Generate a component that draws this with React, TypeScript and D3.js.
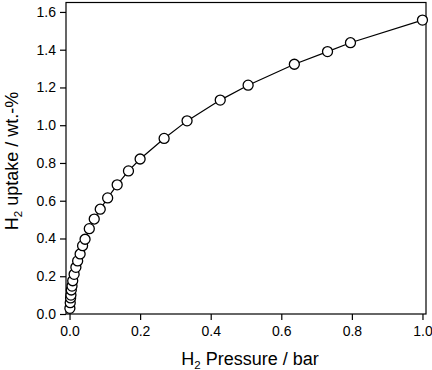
import { useEffect, useRef } from 'react';
import * as d3 from 'd3';

// H2 isotherm, pressure in bar, uptake in wt.-%
const pressure = [
  0.001, 0.002, 0.003, 0.004, 0.005, 0.007, 0.009, 0.013, 0.018, 0.023, 0.03,
  0.037, 0.044, 0.056, 0.07, 0.087, 0.108, 0.135, 0.167, 0.2, 0.268, 0.333,
  0.427, 0.506, 0.637, 0.731, 0.796, 1.0,
];
const uptake = [
  0.03, 0.06, 0.085, 0.1, 0.127, 0.148, 0.176, 0.21, 0.247, 0.281, 0.318,
  0.362, 0.396, 0.452, 0.503, 0.555, 0.615, 0.684, 0.758, 0.821, 0.93, 1.023,
  1.133, 1.212, 1.323, 1.39, 1.437, 1.557,
];
const xTicks = [0, 0.2, 0.4, 0.6, 0.8, 1.0];
const yTicks = [0, 0.2, 0.4, 0.6, 0.8, 1.0, 1.2, 1.4, 1.6];

export default function App() {
  const svgRef = useRef<SVGSVGElement>(null);
  const width = 432;
  const height = 370;

  useEffect(() => {
    if (!svgRef.current) return;
    const svg = d3.select(svgRef.current);
    svg.selectAll('*').remove();

    const x = d3.scaleLinear().domain([-0.01, 1.01]).range([66, 426]);
    const y = d3.scaleLinear().domain([0, 1.65]).range([314, 2.5]);
    const font = 'Arial, "Liberation Sans", sans-serif';

    // frame
    svg.append('rect')
      .attr('x', x(-0.01)).attr('y', y(1.65))
      .attr('width', x(1.01) - x(-0.01)).attr('height', y(0) - y(1.65))
      .attr('fill', 'none').attr('stroke', '#000').attr('stroke-width', 1.2);

    // X axis
    const gx = svg.append('g').attr('transform', `translate(0,${y(0)})`);
    gx.call(d3.axisBottom(x).tickValues(d3.range(0, 1.01, 0.1)).tickSize(3).tickFormat(() => ''));
    gx.call(d3.axisBottom(x).tickValues(xTicks).tickSize(6).tickPadding(6).tickFormat(d3.format('.1f')));
    gx.select('.domain').remove();
    gx.selectAll('line').attr('stroke-width', 1.2);
    gx.selectAll('text').attr('font-size', 14).attr('font-family', font).attr('fill', '#000');

    // Y axis
    const gy = svg.append('g').attr('transform', `translate(${x(-0.01)},0)`);
    gy.call(d3.axisLeft(y).tickValues(d3.range(0, 1.61, 0.1)).tickSize(3).tickFormat(() => ''));
    gy.call(d3.axisLeft(y).tickValues(yTicks).tickSize(6).tickPadding(4).tickFormat(d3.format('.1f')));
    gy.select('.domain').remove();
    gy.selectAll('line').attr('stroke-width', 1.2);
    gy.selectAll('text').attr('font-size', 14).attr('font-family', font).attr('fill', '#000');

    const pts = pressure.map((p, i) => [p, uptake[i]] as [number, number]);

    svg.append('path')
      .datum(pts)
      .attr('d', d3.line().x((d) => x(d[0])).y((d) => y(d[1])))
      .attr('fill', 'none').attr('stroke', '#000').attr('stroke-width', 1.2);

    svg.selectAll('circle.pt')
      .data(pts)
      .enter()
      .append('circle')
      .attr('class', 'pt')
      .attr('cx', (d) => x(d[0])).attr('cy', (d) => y(d[1]))
      .attr('r', 5)
      .attr('fill', '#fff').attr('stroke', '#000').attr('stroke-width', 1.3);

    // axis titles
    const xt = svg.append('text')
      .attr('x', 250).attr('y', 365)
      .attr('text-anchor', 'middle').attr('font-size', 18).attr('font-family', font);
    xt.append('tspan').text('H');
    xt.append('tspan').attr('font-size', 11.5).attr('dy', 4).text('2');
    xt.append('tspan').attr('dy', -4).text(' Pressure / bar');

    const yt = svg.append('text')
      .attr('transform', 'translate(17.5,161) rotate(-90)')
      .attr('text-anchor', 'middle').attr('font-size', 18).attr('font-family', font);
    yt.append('tspan').text('H');
    yt.append('tspan').attr('font-size', 11.5).attr('dy', 4).text('2');
    yt.append('tspan').attr('dy', -4).text(' uptake / wt.-%');
  }, []);

  return (
    <svg
      ref={svgRef}
      width={width}
      height={height}
      style={{ position: 'absolute', left: 0, top: 0, background: '#fff' }}
    />
  );
}
